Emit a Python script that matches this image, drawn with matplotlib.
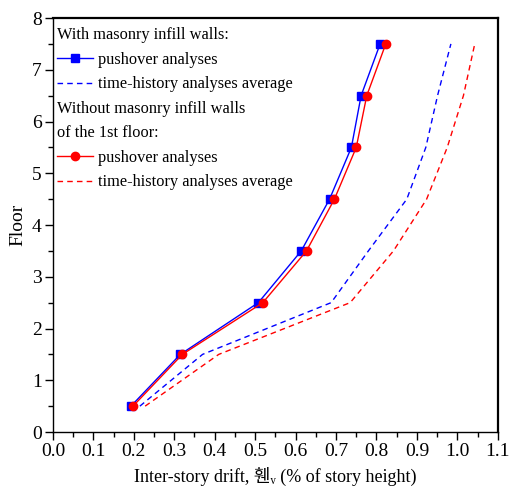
import matplotlib
matplotlib.use('Agg')
import matplotlib.pyplot as plt
from matplotlib.lines import Line2D
from matplotlib.ticker import MultipleLocator

plt.rcParams['font.family'] = ['Liberation Serif', 'Noto Sans CJK KR', 'DejaVu Sans']

floors = [0.5, 1.5, 2.5, 3.5, 4.5, 5.5, 6.5, 7.5]

# with masonry infill walls
push_infill = [0.193, 0.315, 0.508, 0.614, 0.684, 0.738, 0.762, 0.809]
th_infill = [0.215, 0.37, 0.688, 0.78, 0.875, 0.922, 0.951, 0.984]

# without masonry infill walls of the 1st floor
push_open = [0.198, 0.320, 0.519, 0.627, 0.696, 0.750, 0.776, 0.823]
th_open = [0.228, 0.41, 0.735, 0.842, 0.924, 0.975, 1.015, 1.043]

fig = plt.figure(figsize=(5.09, 4.94), dpi=100)
ax = fig.add_axes([0.104, 0.1255, 0.874, 0.838])

ax.plot(push_infill, floors, '-', color='#0000ff', lw=1.0, marker='s', ms=5.5,
        label='pushover analyses')
ax.plot(th_infill, floors, '--', color='#0000ff', lw=1.0, dashes=(4, 3),
        label='time-history analyses average')
ax.plot(push_open, floors, '-', color='#ff0000', lw=1.0, marker='o', ms=6,
        label='pushover analyses')
ax.plot(th_open, floors, '--', color='#ff0000', lw=1.0, dashes=(4, 3),
        label='time-history analyses average')

ax.set_xlim(0.0, 1.1)
ax.set_ylim(0, 8)
ax.xaxis.set_major_locator(MultipleLocator(0.1))
ax.xaxis.set_minor_locator(MultipleLocator(0.05))
ax.yaxis.set_major_locator(MultipleLocator(1))
ax.yaxis.set_minor_locator(MultipleLocator(0.5))
ax.xaxis.set_major_formatter(matplotlib.ticker.FormatStrFormatter('%.1f'))
ax.tick_params(which='major', direction='out', length=6, width=1.0, labelsize=14, pad=2)
ax.tick_params(which='minor', direction='out', length=3.5, width=1.0)
for s in ax.spines.values():
    s.set_linewidth(1.0)
ax.spines['top'].set_linewidth(1.6)
ax.spines['right'].set_linewidth(1.6)

ax.set_xlabel('Inter-story drift, 휀\u1d65 (% of story height)', fontsize=13, labelpad=5)
ax.set_ylabel('Floor', fontsize=14, labelpad=4)

blank = Line2D([], [], lw=0)
lines = ax.get_lines()
handles = [blank, lines[0], lines[1], blank, blank, lines[2], lines[3]]
labels = ['With masonry infill walls:', 'pushover analyses', 'time-history analyses average',
          'Without masonry infill walls', 'of the 1st floor:', 'pushover analyses',
          'time-history analyses average']
leg = ax.legend(handles, labels, loc='upper left', bbox_to_anchor=(0.002, 0.9855),
                frameon=False, fontsize=11.8,
                handlelength=2.2, handletextpad=0.3, labelspacing=0.52,
                borderaxespad=0.0, borderpad=0.2)
# header rows: drop the empty handle box so text starts at the left edge
headers = {0, 3, 4}
rows = []
for col in leg._legend_handle_box.get_children():
    rows.extend(col.get_children())
for i, row in enumerate(rows):
    if i in headers:
        row._children = [row._children[1]]

fig.savefig('out.png', dpi=100)
